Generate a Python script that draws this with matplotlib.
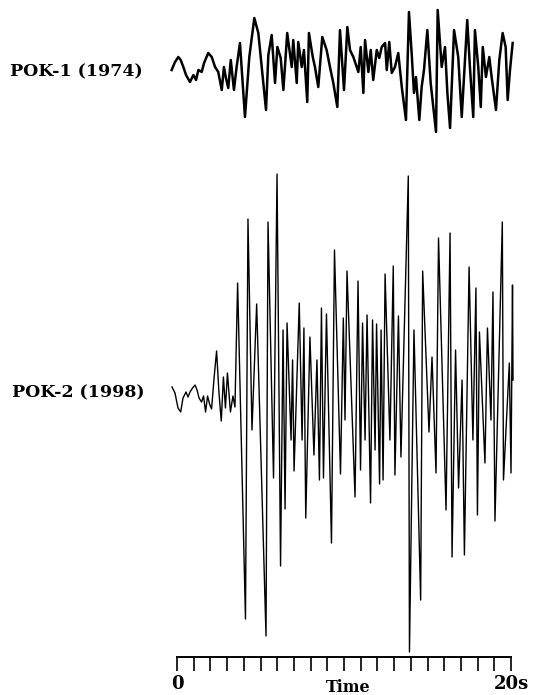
import matplotlib
matplotlib.use("Agg")
import matplotlib.pyplot as plt

# --- POK-1 (1974): time (s) and amplitude (arbitrary counts) -------------
POK1_T = [-0.32, -0.12, 0.08, 0.22, 0.38, 0.54, 0.78, 0.98, 1.14, 1.28,
          1.48, 1.62, 1.87, 2.08, 2.28, 2.47, 2.68, 2.81, 2.93, 3.07,
          3.22, 3.41, 3.57, 3.77, 4.07, 4.33, 4.63, 4.87, 5.33, 5.47,
          5.67, 5.87, 6.01, 6.21, 6.37, 6.60, 6.87, 6.96, 7.17, 7.26,
          7.47, 7.60, 7.80, 7.90, 8.13, 8.26, 8.46, 8.70, 8.96, 9.16,
          9.36, 9.60, 9.76, 10.00, 10.20, 10.36, 10.56, 10.86, 11.00, 11.16,
          11.26, 11.46, 11.60, 11.75, 11.96, 12.11, 12.26, 12.46, 12.56, 12.71,
          12.86, 13.05, 13.25, 13.46, 13.71, 13.89, 14.05, 14.19, 14.31, 14.51,
          14.65, 14.79, 14.99, 15.19, 15.51, 15.61, 15.85, 16.05, 16.19, 16.35,
          16.59, 16.84, 17.05, 17.38, 17.54, 17.74, 17.84, 18.04, 18.19, 18.31,
          18.50, 18.70, 18.84, 19.10, 19.30, 19.50, 19.68, 19.80, 19.94, 20.10]
POK1_A = [0, 8, 13, 10, 3, -5, -12, -5, -10, 0,
          -2, 7, 17, 13, 3, -2, -20, 3, -8, -18,
          10, -20, 3, 27, -47, 13, 52, 37, -40, 15,
          35, -13, 23, 12, -20, 37, 3, 30, -13, 28,
          3, 20, -32, 37, 13, 3, -17, 33, 20, 3,
          -13, -37, 40, -20, 43, 20, 13, -2, 23, -23,
          30, -2, 20, -10, 20, 12, 23, 27, 0, 28,
          -3, 3, 17, -17, -50, 58, 17, -23, -7, -50,
          -17, 0, 40, -13, -62, 60, 3, 23, -23, -58,
          40, 13, -47, 50, 3, -47, 40, 3, -37, 23,
          -7, 13, -7, -40, 10, 37, 23, -30, 0, 27]

# --- POK-2 (1998) ---------------------------------------------------------
POK2_T = [-0.30, -0.12, 0.06, 0.22, 0.36, 0.54, 0.66, 0.78, 0.93, 1.08,
          1.20, 1.32, 1.47, 1.59, 1.71, 1.83, 1.95, 2.07, 2.22, 2.37,
          2.51, 2.65, 2.78, 2.90, 3.02, 3.20, 3.35, 3.47, 3.63, 4.10,
          4.25, 4.49, 4.77, 5.33, 5.45, 5.78, 5.99, 6.20, 6.35, 6.47,
          6.59, 6.83, 6.92, 7.01, 7.32, 7.49, 7.60, 7.71, 7.96, 8.20,
          8.38, 8.53, 8.65, 8.77, 8.95, 9.25, 9.43, 9.79, 9.96, 10.06,
          10.18, 10.66, 10.84, 10.99, 11.11, 11.26, 11.38, 11.59, 11.71, 11.86,
          11.95, 12.13, 12.22, 12.34, 12.46, 12.75, 12.95, 13.05, 13.26, 13.41,
          13.85, 13.92, 14.19, 14.59, 14.71, 15.09, 15.27, 15.51, 15.66, 16.11,
          16.35, 16.47, 16.68, 16.86, 17.07, 17.21, 17.49, 17.72, 17.90, 17.99,
          18.11, 18.44, 18.59, 18.80, 18.92, 19.04, 19.48, 19.55, 19.90, 20.00,
          20.09, 20.12]
POK2_A = [3, -3, -18, -22, -8, -2, -7, -2, 2, 5,
          0, -8, -12, -6, -22, -6, -14, -19, 12, 39,
          -2, -31, 13, -18, 17, -22, -6, -17, 107, -229,
          171, -40, 86, -246, 168, -88, 216, -176, 60, -119,
          67, -50, 30, -81, 87, -50, 62, -128, 53, -65,
          30, -90, 82, -88, 76, -153, 140, -84, 72, -30,
          119, -107, 109, -80, 67, -50, 75, -113, 70, -60,
          66, -94, 60, -90, 116, -50, 124, -85, 74, -67,
          214, -262, 60, -210, 119, -42, 33, -83, 152, -120,
          157, -167, 40, -98, 10, -165, 123, -50, 102, -125,
          58, -73, 62, -30, 98, -131, 168, -90, 27, -83,
          105, 10]

TIME_TICKS = list(range(0, 21))
TIME_LABELS = {0: "0", 20: "20s"}
LABELS = ["POK-1 (1974)", "POK-2 (1998)"]

W, H = 533, 695
fig = plt.figure(figsize=(W / 100, H / 100), dpi=100)
SERIF = ["DejaVu Serif"]


# pixel helper for placing axes (x from left, y from top)
def rect(x0, y_top, x1, y_bot):
    return [x0 / W, 1 - y_bot / H, (x1 - x0) / W, (y_bot - y_top) / H]


# top trace
ax1 = fig.add_axes(rect(177, 0, 511, 140))
ax1.plot(POK1_T, POK1_A, color="black", lw=1.8, clip_on=False,
         solid_joinstyle="round")
ax1.set_xlim(0, 20)
ax1.set_ylim(-70, 70)
ax1.axis("off")

# bottom trace, its bottom spine doubles as the time axis
ax2 = fig.add_axes(rect(177, 160, 511, 657))
ax2.plot(POK2_T, POK2_A, color="black", lw=1.0, clip_on=False)
ax2.set_xlim(0, 20)
ax2.set_ylim(-267, 230)
for s in ("top", "left", "right"):
    ax2.spines[s].set_visible(False)
ax2.spines["bottom"].set_linewidth(1.4)
ax2.set_yticks([])
ax2.set_xticks(TIME_TICKS)
ax2.set_xticklabels([TIME_LABELS.get(t, "") for t in TIME_TICKS],
                    fontfamily=SERIF, fontweight="bold", fontsize=13)
ax2.tick_params(axis="x", direction="out", length=10, width=1.2, pad=3)

fig.text(348 / W, 1 - 687 / H, "Time", ha="center", va="center",
         fontfamily=SERIF, fontweight="bold", fontsize=11.5)
fig.text(10 / W, 1 - 72 / H, LABELS[0], ha="left", va="center",
         fontfamily=SERIF, fontweight="bold", fontsize=12.5)
fig.text(12 / W, 1 - 393 / H, LABELS[1], ha="left", va="center",
         fontfamily=SERIF, fontweight="bold", fontsize=12.5)

fig.savefig("out.png", dpi=100)
